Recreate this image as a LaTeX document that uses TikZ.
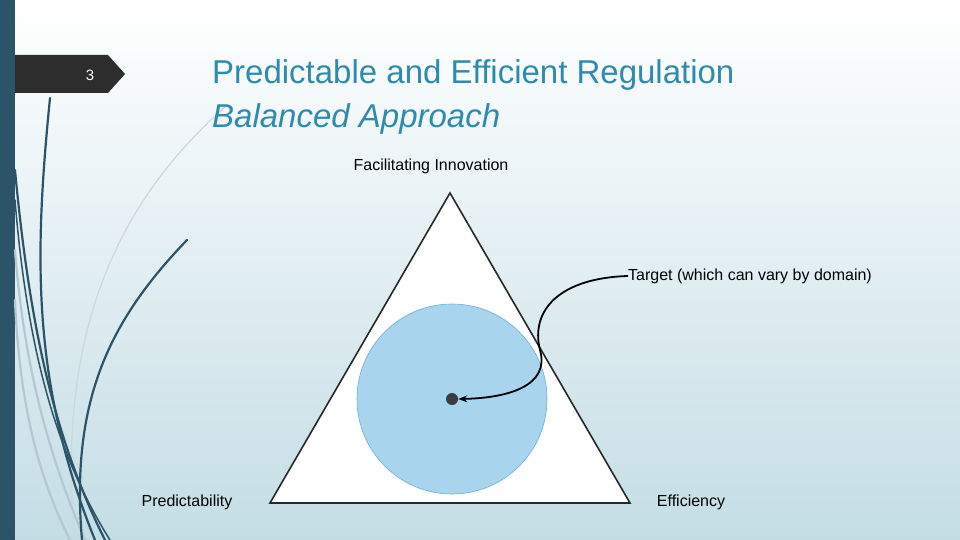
\documentclass[tikz,border=0pt]{standalone}
\usepackage{fontspec}
\setmainfont{Liberation Sans}
\usetikzlibrary{arrows.meta}
\definecolor{ttlc}{RGB}{46,139,176}
\definecolor{dkc}{RGB}{44,84,104}
\definecolor{ltc}{RGB}{180,200,210}
\definecolor{vlc}{RGB}{205,215,220}
\definecolor{bgb}{RGB}{196,221,229}
\definecolor{tabc}{RGB}{45,45,45}
\definecolor{trc}{RGB}{40,40,40}
\definecolor{circf}{RGB}{168,212,238}
\definecolor{circd}{RGB}{110,175,215}
\definecolor{dotc}{RGB}{60,60,60}
\begin{document}
\begin{tikzpicture}[x=1pt,y=-1pt,
  lbl/.style={font=\fontsize{16}{18}\selectfont,text=black,inner sep=0pt},
  ttl/.style={font=\fontsize{33}{40}\selectfont,text=ttlc,inner sep=0pt,anchor=west},
  dk/.style={draw=dkc,line width=2.2pt,line cap=round},
  lt/.style={draw=ltc,line width=2.2pt,line cap=round}]
\useasboundingbox (0,0) rectangle (960,540);
\shade[top color=white,bottom color=bgb] (0,0) rectangle (960,540);
\fill[dkc] (0,0) rectangle (15,540);
% decorative curves
\draw[lt,line width=1.2pt,draw=vlc] (225,107) .. controls (120,200) and (55,330) .. (75,540);
\draw[lt] (15,250) .. controls (25,380) and (55,470) .. (85,540);
\draw[lt] (15,300) .. controls (20,420) and (45,490) .. (70,540);
\draw[dk] (50,98) .. controls (35,250) and (30,380) .. (95,540);
\draw[dk] (15,170) .. controls (30,330) and (55,440) .. (105,540);
\draw[dk] (187,240) .. controls (110,320) and (70,400) .. (82,540);
\draw[dk,line width=1.5pt] (15,200) .. controls (28,360) and (60,460) .. (110,540);
% tab
\fill[tabc] (15,55) -- (108,55) -- (125,74) -- (108,93) -- (15,93) -- cycle;
\node[text=white,font=\fontsize{15}{18}\selectfont] (num) at (90,75) {3};
\node[ttl] (t1) at (212,75) {Predictable and Efficient Regulation};
\node[ttl] (t2) at (212,119) {\itshape Balanced Approach};
% triangle
\draw[fill=white,draw=trc,line width=1.6pt] (450,193) -- (630,503) -- (270,503) -- cycle;
\node[circle,minimum size=190pt,fill=circf,draw=circd,line width=0.6pt] (c) at (452,399) {};
\node[circle,minimum size=12pt,inner sep=0pt,fill=dotc] (dot) at (452,399) {};
\node[lbl] (fi) at (431,166) {Facilitating Innovation};
\node[lbl,anchor=west] (tg) at (628,276) {Target (which can vary by domain)};
\node[lbl] (pr) at (187,502) {Predictability};
\node[lbl] (ef) at (691,502) {Efficiency};
\draw[black,line width=1.8pt,-{Stealth[length=9pt]}] (tg.west) .. controls (560,278) and (530,310) .. (540,350) .. controls (550,385) and (510,398) .. (dot.east);
\end{tikzpicture}
\end{document}
